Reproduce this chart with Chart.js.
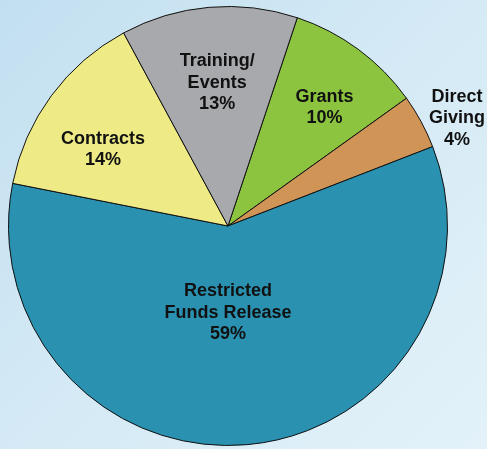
<!DOCTYPE html>
<html>
<head>
<meta charset="utf-8">
<script src="https://cdn.jsdelivr.net/npm/chart.js@4"></script>
<style>
  html, body { margin: 0; padding: 0; }
  body {
    width: 487px; height: 449px; overflow: hidden;
    background: linear-gradient(135deg, #c2dff0 0%, #d3e9f5 45%, #e3f2f9 100%);
  }
  canvas { display: block; }
</style>
</head>
<body>
<canvas id="pieChart" width="487" height="449"></canvas>
<script>
// data, clockwise starting at Grants
const categories = [['Grants'], ['Direct', 'Giving'], ['Restricted', 'Funds Release'], ['Contracts'], ['Training/', 'Events']];
const shares = [10, 4, 59, 14, 13];

const sliceColors = ['#8cc43f', '#cf9456', '#2a91b0', '#eeeb87', '#a8a9ac'];
// where each label sits: [fraction of radius, angle from top in degrees]
const labelPlace = [[0.70, 38.9], [1.155, 64.6], [0.39, 180], [0.67, 301.8], [0.66, 355.7]];

const labelPlugin = {
  id: 'sliceLabels',
  afterDatasetsDraw(chart) {
    const ctx = chart.ctx;
    const arcs = chart.getDatasetMeta(0).data;
    ctx.save();
    ctx.font = 'bold 18px "Liberation Sans", Arial, sans-serif';
    ctx.fillStyle = '#111';
    ctx.textAlign = 'center';
    ctx.textBaseline = 'middle';
    const lineH = 21.5;
    arcs.forEach((arc, i) => {
      const [f, deg] = labelPlace[i];
      const a = (deg - 90) * Math.PI / 180;
      const cx = arc.x + Math.cos(a) * arc.outerRadius * f;
      const cy = arc.y + Math.sin(a) * arc.outerRadius * f + 1;
      const lines = categories[i].concat([shares[i] + '%']);
      const top = cy - (lines.length - 1) * lineH / 2;
      lines.forEach((t, k) => ctx.fillText(t, cx, top + k * lineH));
    });
    ctx.restore();
  }
};

const pdata = {
  labels: categories.map(c => c.join(' ')),
  datasets: [{
    data: shares,
    backgroundColor: sliceColors,
    borderColor: '#111',
    borderWidth: 1
  }]
};

const pconfig = {
  type: 'pie',
  data: pdata,
  options: {
    responsive: false,
    animation: false,
    rotation: 18.4,
    plugins: {
      legend: { display: false },
      tooltip: { enabled: false }
    },
    layout: {
      padding: { left: 8, right: 39, top: 6, bottom: 3 }
    }
  },
  plugins: [labelPlugin]
};

const pieChart = new Chart(document.getElementById('pieChart'), pconfig);
</script>
</body>
</html>
